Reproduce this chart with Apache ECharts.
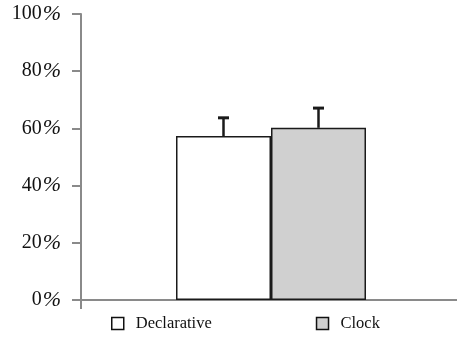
<!DOCTYPE html>
<html>
<head>
<meta charset="utf-8">
<script src="https://cdn.jsdelivr.net/npm/echarts@6/dist/echarts.min.js"></script>
<style>html,body{margin:0;padding:0;background:#fff;}#c{width:457px;height:338px;}</style>
</head>
<body>
<div id="c"></div>
<script>
const categories = [''];
const seriesNames = ['Declarative', 'Clock'];
const declarative = [57.3];
const clock = [60.2];
const declarativeErr = [6.4];
const clock_err = [6.9];
const yTicks = [0, 20, 40, 60, 80, 100];

const chart = echarts.init(document.getElementById('c'), null, {renderer: 'canvas'});
const FONT = "'Liberation Serif', 'Times New Roman', serif";
const BW = 95;

function errSeries(means, errs, offset) {
  return {
    type: 'custom',
    z: 5,
    silent: true,
    data: means.map((m, i) => [i, m, m + errs[i]]),
    renderItem: function (params, api) {
      const base = api.coord([api.value(0), api.value(1)]);
      const top = api.coord([api.value(0), api.value(2)]);
      const x = top[0] + offset;
      return {
        type: 'group',
        children: [
          {type: 'line', shape: {x1: x, y1: base[1], x2: x, y2: top[1]}, style: {stroke: '#1a1a1a', lineWidth: 2.5}},
          {type: 'line', shape: {x1: x - 5.5, y1: top[1], x2: x + 5.5, y2: top[1]}, style: {stroke: '#1a1a1a', lineWidth: 3}}
        ]
      };
    }
  };
}

chart.setOption({
  animation: false,
  backgroundColor: '#fff',
  grid: {left: 81, right: -4, top: 14, bottom: 38, containLabel: false, outerBoundsMode: 'none'},
  legend: {
    data: seriesNames,
    left: 111,
    top: 315,
    padding: 0,
    itemWidth: 12,
    itemHeight: 12,
    itemGap: 104,
    icon: 'rect',
    itemStyle: {borderColor: '#111', borderWidth: 1.5},
    textStyle: {fontFamily: FONT, fontSize: 16.5, color: '#111', padding: [0, 0, 0, 7]}
  },
  xAxis: {
    type: 'category',
    data: categories,
    axisLine: {lineStyle: {color: '#8a8a8a', width: 2}},
    axisTick: {show: true, length: 9, lineStyle: {color: '#8a8a8a', width: 2}},
    axisLabel: {show: false},
    splitLine: {show: false}
  },
  yAxis: {
    type: 'value',
    min: yTicks[0],
    max: yTicks[yTicks.length - 1],
    interval: 20,
    axisLine: {show: true, lineStyle: {color: '#8a8a8a', width: 2}},
    axisTick: {show: true, length: 9, lineStyle: {color: '#8a8a8a', width: 2}},
    splitLine: {show: false},
    axisLabel: {
      margin: 20,
      formatter: v => '{n|' + v + '}{p|%}',
      rich: {
        n: {fontFamily: FONT, fontSize: 20, color: '#111'},
        p: {fontFamily: FONT, fontSize: 22, fontStyle: 'italic', color: '#111', padding: [0, 0, 0, 1]}
      }
    }
  },
  series: [
    {
      name: seriesNames[0], type: 'bar', data: declarative, barWidth: BW, barGap: '0%',
      itemStyle: {color: '#ffffff', borderColor: '#1a1a1a', borderWidth: 1.5}
    },
    {
      name: seriesNames[1], type: 'bar', data: clock, barWidth: BW, barGap: '0%',
      itemStyle: {color: '#d0d0d0', borderColor: '#1a1a1a', borderWidth: 1.5}
    },
    errSeries(declarative, declarativeErr, -BW / 2),
    errSeries(clock, clock_err, BW / 2)
  ]
});
</script>
</body>
</html>
